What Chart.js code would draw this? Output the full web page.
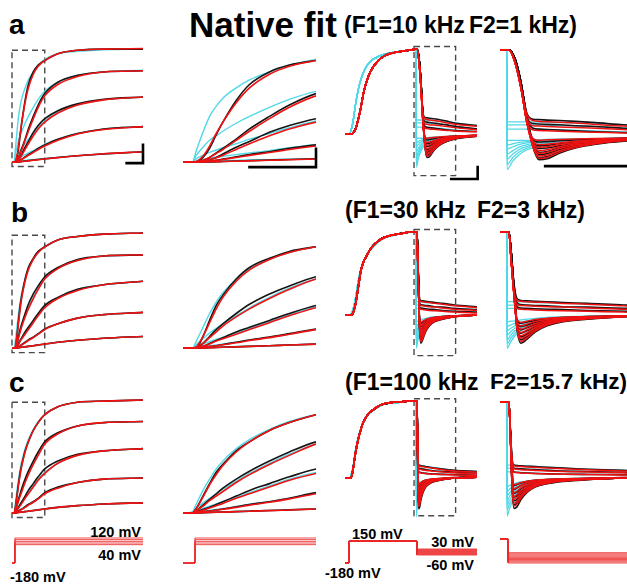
<!DOCTYPE html>
<html>
<head>
<meta charset="utf-8">
<script src="https://cdn.jsdelivr.net/npm/chart.js@4.4.1/dist/chart.umd.min.js"></script>
<style>
  body { margin: 0; background: #fff; }
  #fig { position: relative; width: 627px; height: 586px; overflow: hidden;
         font-family: "Liberation Sans", Arial, sans-serif; font-weight: bold; color: #000; }
  #fig canvas { position: absolute; }
  .t { position: absolute; white-space: nowrap; line-height: 1; }
</style>
</head>
<body>
<div id="fig">
  <div class="t" style="left:9px;top:11px;font-size:28px">a</div>
  <div class="t" style="left:11px;top:199px;font-size:28px">b</div>
  <div class="t" style="left:9px;top:369px;font-size:28px">c</div>
  <div class="t" style="left:189px;top:7px;font-size:35px">Native fit</div>
  <div class="t" style="left:344px;top:14px;font-size:23px">(F1=10 kHz</div>
  <div class="t" style="left:469px;top:14px;font-size:23px">F2=1 kHz)</div>
  <div class="t" style="left:345px;top:199px;font-size:23px">(F1=30 kHz</div>
  <div class="t" style="left:477px;top:199px;font-size:23px">F2=3 kHz)</div>
  <div class="t" style="left:345px;top:371px;font-size:23px">(F1=100 kHz</div>
  <div class="t" style="left:490px;top:371px;font-size:22.5px">F2=15.7 kHz)</div>
  <div class="t" style="right:486px;top:525px;font-size:14.5px">120 mV</div>
  <div class="t" style="right:486px;top:548px;font-size:14.5px">40 mV</div>
  <div class="t" style="left:10px;top:570px;font-size:14.5px">-180 mV</div>
  <div class="t" style="left:352px;top:527px;font-size:14.5px">150 mV</div>
  <div class="t" style="right:153px;top:535px;font-size:14.5px">30 mV</div>
  <div class="t" style="right:153px;top:558px;font-size:14.5px">-60 mV</div>
  <div class="t" style="left:325px;top:566px;font-size:14.5px">-180 mV</div>
</div>
<script>
// ---- activation (columns 1-2): time in ms, current normalised, steps 40..120 mV ----
var actT = [0, 0.7, 1, 1.5, 2, 2.5, 3, 4, 5, 6.5, 8, 10, 14, 20, 28, 40];

var actBlackA = [
  [0, 0, 0, 0, 0, 0.002, 0.004, 0.008, 0.012, 0.017, 0.022, 0.028, 0.04, 0.055, 0.07, 0.09],
  [0, 0, 0, 0, 0.008, 0.015, 0.025, 0.045, 0.065, 0.09, 0.12, 0.15, 0.2, 0.25, 0.29, 0.31],
  [0, 0, 0, 0.005, 0.02, 0.04, 0.07, 0.13, 0.18, 0.26, 0.32, 0.38, 0.45, 0.51, 0.55, 0.57],
  [0, 0, 0, 0.01, 0.04, 0.08, 0.12, 0.2, 0.29, 0.4, 0.5, 0.6, 0.7, 0.76, 0.79, 0.8],
  [0, 0, 0, 0.04, 0.12, 0.24, 0.35, 0.54, 0.68, 0.79, 0.85, 0.89, 0.95, 0.98, 0.99, 0.99]
];
var actRedA = [
  [0, 0, 0, 0.001, 0.002, 0.003, 0.004, 0.007, 0.01, 0.015, 0.02, 0.026, 0.038, 0.055, 0.072, 0.09],
  [0, 0, 0, 0.003, 0.008, 0.014, 0.022, 0.04, 0.058, 0.083, 0.11, 0.14, 0.19, 0.245, 0.285, 0.31],
  [0, 0, 0, 0.006, 0.02, 0.038, 0.06, 0.11, 0.16, 0.23, 0.29, 0.35, 0.43, 0.5, 0.545, 0.57],
  [0, 0, 0.002, 0.015, 0.04, 0.075, 0.11, 0.19, 0.27, 0.38, 0.48, 0.58, 0.68, 0.75, 0.79, 0.8],
  [0, 0, 0.005, 0.05, 0.14, 0.25, 0.35, 0.52, 0.65, 0.77, 0.84, 0.89, 0.95, 0.98, 0.99, 0.995]
];
var actCyanA = [
  [0, 0, 0.003, 0.005, 0.007, 0.009, 0.011, 0.014, 0.017, 0.021, 0.025, 0.03, 0.041, 0.056, 0.072, 0.09],
  [0, 0, 0.01, 0.022, 0.033, 0.042, 0.05, 0.065, 0.08, 0.1, 0.125, 0.155, 0.2, 0.25, 0.29, 0.31],
  [0, 0, 0.03, 0.06, 0.085, 0.105, 0.125, 0.16, 0.2, 0.25, 0.3, 0.36, 0.44, 0.5, 0.545, 0.57],
  [0, 0, 0.06, 0.13, 0.19, 0.23, 0.27, 0.34, 0.4, 0.48, 0.55, 0.62, 0.7, 0.76, 0.79, 0.805],
  [0, 0, 0.1, 0.26, 0.4, 0.49, 0.56, 0.65, 0.72, 0.79, 0.85, 0.9, 0.95, 0.97, 0.985, 0.99]
];

var actBlackB = [
  [0, 0, 0, 0, 0.002, 0.004, 0.006, 0.01, 0.014, 0.02, 0.026, 0.034, 0.05, 0.068, 0.085, 0.1],
  [0, 0, 0, 0.005, 0.012, 0.02, 0.03, 0.05, 0.07, 0.095, 0.125, 0.165, 0.21, 0.26, 0.29, 0.31],
  [0, 0, 0, 0.015, 0.04, 0.065, 0.09, 0.14, 0.18, 0.24, 0.3, 0.37, 0.44, 0.51, 0.55, 0.58],
  [0, 0, 0, 0.04, 0.1, 0.16, 0.21, 0.3, 0.38, 0.47, 0.54, 0.62, 0.7, 0.77, 0.8, 0.81],
  [0, 0, 0, 0.1, 0.24, 0.37, 0.46, 0.6, 0.7, 0.78, 0.84, 0.88, 0.94, 0.97, 0.99, 1.0]
];
var actRedB = [
  [0, 0, 0, 0.001, 0.002, 0.004, 0.006, 0.01, 0.014, 0.02, 0.026, 0.034, 0.05, 0.068, 0.085, 0.1],
  [0, 0, 0.002, 0.006, 0.012, 0.02, 0.028, 0.045, 0.065, 0.09, 0.12, 0.16, 0.21, 0.26, 0.29, 0.31],
  [0, 0, 0.003, 0.015, 0.035, 0.06, 0.08, 0.12, 0.16, 0.22, 0.28, 0.35, 0.43, 0.5, 0.55, 0.58],
  [0, 0, 0.005, 0.04, 0.09, 0.14, 0.19, 0.27, 0.34, 0.43, 0.51, 0.6, 0.69, 0.76, 0.8, 0.81],
  [0, 0, 0.01, 0.1, 0.22, 0.34, 0.44, 0.58, 0.68, 0.77, 0.83, 0.88, 0.94, 0.97, 0.99, 1.0]
];
var actCyanB = [
  [0, 0, 0.002, 0.004, 0.006, 0.008, 0.01, 0.013, 0.016, 0.021, 0.027, 0.035, 0.05, 0.068, 0.085, 0.1],
  [0, 0, 0.006, 0.013, 0.02, 0.027, 0.034, 0.05, 0.068, 0.092, 0.12, 0.16, 0.21, 0.26, 0.29, 0.31],
  [0, 0, 0.015, 0.035, 0.055, 0.075, 0.095, 0.13, 0.17, 0.23, 0.29, 0.36, 0.44, 0.51, 0.55, 0.58],
  [0, 0, 0.03, 0.08, 0.13, 0.17, 0.21, 0.28, 0.35, 0.44, 0.52, 0.6, 0.69, 0.76, 0.8, 0.81],
  [0, 0, 0.06, 0.18, 0.3, 0.4, 0.48, 0.6, 0.69, 0.77, 0.83, 0.88, 0.94, 0.97, 0.99, 1.0]
];

var actBlackC = [
  [0, 0, 0, 0.002, 0.004, 0.006, 0.008, 0.012, 0.016, 0.022, 0.028, 0.036, 0.05, 0.065, 0.08, 0.09],
  [0, 0, 0.003, 0.01, 0.018, 0.026, 0.035, 0.055, 0.075, 0.1, 0.13, 0.18, 0.23, 0.27, 0.3, 0.31],
  [0, 0, 0.01, 0.03, 0.05, 0.075, 0.1, 0.15, 0.2, 0.26, 0.32, 0.39, 0.46, 0.52, 0.55, 0.57],
  [0, 0, 0.02, 0.07, 0.12, 0.17, 0.22, 0.3, 0.37, 0.46, 0.54, 0.63, 0.71, 0.77, 0.8, 0.81],
  [0, 0, 0.04, 0.15, 0.26, 0.36, 0.43, 0.55, 0.63, 0.73, 0.8, 0.87, 0.94, 0.98, 0.99, 1.0]
];
var actRedC = [
  [0, 0, 0, 0.002, 0.004, 0.006, 0.008, 0.012, 0.016, 0.021, 0.027, 0.035, 0.05, 0.065, 0.08, 0.09],
  [0, 0, 0.003, 0.01, 0.017, 0.025, 0.033, 0.05, 0.07, 0.095, 0.125, 0.17, 0.22, 0.27, 0.3, 0.31],
  [0, 0, 0.01, 0.025, 0.045, 0.065, 0.085, 0.13, 0.17, 0.23, 0.29, 0.35, 0.44, 0.51, 0.55, 0.57],
  [0, 0, 0.02, 0.06, 0.11, 0.15, 0.19, 0.27, 0.34, 0.43, 0.51, 0.61, 0.7, 0.77, 0.8, 0.81],
  [0, 0, 0.04, 0.14, 0.25, 0.34, 0.42, 0.54, 0.63, 0.73, 0.8, 0.87, 0.94, 0.98, 0.99, 1.0]
];
var actCyanC = [
  [0, 0.001, 0.003, 0.005, 0.007, 0.009, 0.011, 0.014, 0.018, 0.023, 0.029, 0.036, 0.05, 0.065, 0.08, 0.09],
  [0, 0.003, 0.008, 0.016, 0.024, 0.031, 0.038, 0.057, 0.077, 0.1, 0.13, 0.175, 0.225, 0.27, 0.3, 0.31],
  [0, 0.003, 0.02, 0.04, 0.06, 0.08, 0.1, 0.14, 0.18, 0.24, 0.3, 0.36, 0.44, 0.51, 0.55, 0.57],
  [0, 0.005, 0.04, 0.09, 0.13, 0.17, 0.21, 0.28, 0.35, 0.44, 0.52, 0.61, 0.7, 0.77, 0.8, 0.81],
  [0, 0.01, 0.08, 0.2, 0.3, 0.39, 0.46, 0.57, 0.65, 0.74, 0.81, 0.87, 0.94, 0.98, 0.99, 1.0]
];

// ---- deactivation (columns 3-4): prepulse 150 mV then tails 30..-60 mV ----
var riseT = [0, 4, 5, 6, 8, 10, 12, 14, 16, 18, 21, 25, 29, 35, 42, 50, 54.5];
var riseA = [0, 0, 0, 0.01, 0.06, 0.17, 0.31, 0.48, 0.6, 0.69, 0.78, 0.86, 0.91, 0.95, 0.97, 0.99, 1];
var riseB = [0, 0, 0, 0.02, 0.13, 0.33, 0.53, 0.64, 0.7, 0.76, 0.83, 0.89, 0.93, 0.96, 0.98, 1, 1];
var riseC = [0, 0, 0.02, 0.1, 0.33, 0.5, 0.63, 0.73, 0.79, 0.84, 0.88, 0.93, 0.96, 0.98, 0.99, 1, 1];

var cyanRiseT = [0, 3.5, 4.5, 6, 8, 10, 12, 15, 19, 25, 30, 40, 50, 54];
var cyanRiseA = [0, 0, 0.04, 0.14, 0.35, 0.52, 0.64, 0.76, 0.85, 0.91, 0.94, 0.97, 0.99, 1];
var cyanRiseB = [0, 0, 0.01, 0.06, 0.2, 0.4, 0.55, 0.68, 0.78, 0.88, 0.93, 0.97, 1, 1];
var cyanRiseC = [0, 0, 0.03, 0.13, 0.36, 0.52, 0.64, 0.76, 0.85, 0.92, 0.96, 0.98, 1, 1];

var tailTA = [56, 57.5, 59, 60.5, 62, 64, 67, 71, 76, 83, 100];
var tailBlackA = [
  [0.9, 0.62, 0.26, 0.195, 0.19, 0.185, 0.18, 0.17, 0.155, 0.13, 0.1],
  [0.9, 0.62, 0.22, 0.145, 0.14, 0.135, 0.13, 0.12, 0.11, 0.09, 0.06],
  [0.9, 0.62, 0.2, 0.09, 0.08, 0.075, 0.07, 0.06, 0.05, 0.04, 0.03],
  [0.9, 0.62, 0.2, -0.04, -0.07, -0.065, -0.055, -0.045, -0.035, -0.025, -0.015],
  [0.9, 0.62, 0.2, -0.07, -0.115, -0.11, -0.09, -0.07, -0.05, -0.035, -0.015],
  [0.9, 0.62, 0.2, -0.09, -0.145, -0.14, -0.115, -0.085, -0.06, -0.04, -0.02],
  [0.9, 0.62, 0.2, -0.1, -0.19, -0.18, -0.14, -0.1, -0.07, -0.045, -0.02],
  [0.9, 0.62, 0.2, -0.11, -0.215, -0.205, -0.16, -0.115, -0.08, -0.05, -0.02],
  [0.9, 0.62, 0.2, -0.12, -0.25, -0.24, -0.185, -0.13, -0.09, -0.055, -0.025],
  [0.9, 0.62, 0.2, -0.13, -0.275, -0.265, -0.2, -0.14, -0.095, -0.06, -0.025]
];
var tailRedA = [
  [0.86, 0.56, 0.25, 0.18, 0.17, 0.165, 0.16, 0.15, 0.135, 0.115, 0.09],
  [0.86, 0.56, 0.2, 0.12, 0.115, 0.11, 0.105, 0.1, 0.09, 0.075, 0.05],
  [0.86, 0.56, 0.17, 0.07, 0.065, 0.06, 0.055, 0.05, 0.045, 0.035, 0.025],
  [0.86, 0.56, 0.15, -0.03, -0.05, -0.045, -0.04, -0.035, -0.03, -0.025, -0.015],
  [0.86, 0.56, 0.15, -0.06, -0.1, -0.095, -0.08, -0.06, -0.045, -0.03, -0.015],
  [0.86, 0.56, 0.15, -0.08, -0.13, -0.125, -0.1, -0.075, -0.055, -0.035, -0.015],
  [0.86, 0.56, 0.15, -0.1, -0.17, -0.16, -0.125, -0.09, -0.065, -0.04, -0.02],
  [0.86, 0.56, 0.15, -0.11, -0.2, -0.19, -0.145, -0.105, -0.075, -0.045, -0.02],
  [0.86, 0.56, 0.15, -0.12, -0.23, -0.22, -0.17, -0.12, -0.085, -0.05, -0.02],
  [0.86, 0.56, 0.15, -0.13, -0.26, -0.25, -0.19, -0.135, -0.09, -0.055, -0.025]
];
var cyanTailTA = [54.05, 55.5, 57, 59, 61, 64, 68, 76, 83, 100];
var cyanTailA = [
  [0.165, 0.165, 0.165, 0.164, 0.162, 0.16, 0.155, 0.145, 0.13, 0.1],
  [0.13, 0.13, 0.13, 0.129, 0.127, 0.124, 0.12, 0.11, 0.09, 0.06],
  [0.08, 0.08, 0.08, 0.079, 0.077, 0.074, 0.07, 0.06, 0.045, 0.03],
  [-0.05, -0.05, -0.05, -0.05, -0.045, -0.04, -0.035, -0.03, -0.025, -0.015],
  [-0.105, -0.09, -0.075, -0.065, -0.06, -0.055, -0.045, -0.035, -0.03, -0.015],
  [-0.15, -0.125, -0.1, -0.08, -0.07, -0.065, -0.055, -0.04, -0.03, -0.02],
  [-0.21, -0.17, -0.13, -0.1, -0.085, -0.075, -0.06, -0.045, -0.035, -0.02],
  [-0.27, -0.21, -0.16, -0.12, -0.1, -0.085, -0.07, -0.05, -0.035, -0.02],
  [-0.33, -0.25, -0.19, -0.14, -0.115, -0.095, -0.075, -0.055, -0.04, -0.02],
  [-0.39, -0.29, -0.22, -0.16, -0.13, -0.105, -0.085, -0.06, -0.04, -0.025]
];

var tailTB = [55, 55.7, 56.5, 57.5, 59, 61, 64, 68, 74, 83, 100];
var tailBlackB = [
  [0.8, 0.4, 0.2, 0.175, 0.17, 0.165, 0.16, 0.15, 0.14, 0.12, 0.1],
  [0.8, 0.4, 0.15, 0.125, 0.12, 0.115, 0.11, 0.1, 0.095, 0.08, 0.065],
  [0.8, 0.4, 0.1, 0.085, 0.08, 0.075, 0.07, 0.065, 0.055, 0.045, 0.035],
  [0.8, 0.35, -0.05, -0.1, -0.085, -0.065, -0.045, -0.03, -0.02, -0.01, 0],
  [0.8, 0.35, -0.08, -0.14, -0.12, -0.09, -0.06, -0.04, -0.025, -0.012, 0],
  [0.8, 0.35, -0.1, -0.18, -0.155, -0.115, -0.075, -0.05, -0.03, -0.015, 0],
  [0.8, 0.35, -0.12, -0.22, -0.19, -0.14, -0.09, -0.06, -0.035, -0.015, 0],
  [0.8, 0.35, -0.14, -0.265, -0.23, -0.165, -0.105, -0.07, -0.04, -0.018, 0],
  [0.8, 0.35, -0.15, -0.3, -0.26, -0.185, -0.12, -0.075, -0.045, -0.02, 0],
  [0.8, 0.35, -0.16, -0.34, -0.29, -0.205, -0.13, -0.08, -0.05, -0.02, 0]
];
var tailRedB = [
  [0.7, 0.3, 0.18, 0.165, 0.16, 0.155, 0.15, 0.14, 0.13, 0.11, 0.09],
  [0.7, 0.3, 0.13, 0.115, 0.11, 0.105, 0.1, 0.095, 0.085, 0.07, 0.055],
  [0.7, 0.3, 0.08, 0.07, 0.065, 0.06, 0.055, 0.05, 0.045, 0.035, 0.025],
  [0.7, 0.28, -0.06, -0.09, -0.075, -0.055, -0.04, -0.028, -0.018, -0.01, 0],
  [0.7, 0.28, -0.08, -0.13, -0.11, -0.08, -0.055, -0.037, -0.023, -0.012, 0],
  [0.7, 0.28, -0.1, -0.17, -0.145, -0.105, -0.07, -0.046, -0.028, -0.014, 0],
  [0.7, 0.28, -0.12, -0.21, -0.18, -0.13, -0.085, -0.055, -0.033, -0.015, 0],
  [0.7, 0.28, -0.13, -0.25, -0.215, -0.155, -0.1, -0.064, -0.038, -0.017, 0],
  [0.7, 0.28, -0.14, -0.28, -0.245, -0.175, -0.112, -0.07, -0.042, -0.019, 0],
  [0.7, 0.28, -0.15, -0.32, -0.275, -0.195, -0.122, -0.076, -0.046, -0.02, 0]
];
var cyanTailTB = [54.05, 55, 56, 57.5, 59, 61, 64, 68, 74, 83, 100];
var cyanTailB = [
  [0.16, 0.16, 0.16, 0.158, 0.155, 0.15, 0.145, 0.14, 0.13, 0.115, 0.1],
  [0.12, 0.12, 0.12, 0.118, 0.115, 0.11, 0.105, 0.1, 0.09, 0.075, 0.065],
  [0.08, 0.08, 0.08, 0.078, 0.075, 0.07, 0.065, 0.06, 0.05, 0.045, 0.035],
  [-0.08, -0.075, -0.07, -0.06, -0.05, -0.04, -0.03, -0.02, -0.015, -0.008, 0],
  [-0.14, -0.12, -0.1, -0.085, -0.07, -0.055, -0.04, -0.027, -0.018, -0.01, 0],
  [-0.19, -0.16, -0.13, -0.105, -0.085, -0.065, -0.048, -0.032, -0.02, -0.01, 0],
  [-0.24, -0.2, -0.16, -0.125, -0.1, -0.076, -0.055, -0.037, -0.023, -0.012, 0],
  [-0.3, -0.24, -0.19, -0.145, -0.115, -0.087, -0.062, -0.042, -0.026, -0.013, 0],
  [-0.35, -0.28, -0.22, -0.165, -0.13, -0.097, -0.07, -0.046, -0.028, -0.014, 0],
  [-0.4, -0.32, -0.25, -0.185, -0.145, -0.107, -0.077, -0.05, -0.03, -0.015, 0]
];

var tailTC = [54.9, 55.3, 55.8, 56.5, 57.5, 59, 61, 64, 68, 74, 83, 100];
var tailBlackC = [
  [0.6, 0.25, 0.17, 0.165, 0.16, 0.155, 0.15, 0.14, 0.13, 0.115, 0.1, 0.085],
  [0.6, 0.22, 0.13, 0.125, 0.12, 0.115, 0.11, 0.1, 0.09, 0.085, 0.075, 0.06],
  [0.6, 0.2, 0.08, 0.075, 0.07, 0.065, 0.06, 0.055, 0.05, 0.047, 0.045, 0.035],
  [0.55, 0.1, -0.1, -0.085, -0.065, -0.045, -0.03, -0.02, -0.01, -0.005, 0.005, 0.01],
  [0.55, 0.05, -0.15, -0.13, -0.1, -0.07, -0.045, -0.03, -0.018, -0.008, 0.003, 0.01],
  [0.55, 0.0, -0.2, -0.185, -0.14, -0.1, -0.065, -0.04, -0.025, -0.012, 0, 0.01],
  [0.55, -0.05, -0.25, -0.235, -0.18, -0.125, -0.08, -0.05, -0.03, -0.015, 0, 0.01],
  [0.55, -0.08, -0.3, -0.285, -0.215, -0.15, -0.095, -0.06, -0.035, -0.017, 0, 0.01],
  [0.55, -0.1, -0.35, -0.33, -0.25, -0.17, -0.11, -0.068, -0.04, -0.02, 0, 0.01],
  [0.55, -0.12, -0.4, -0.38, -0.285, -0.19, -0.12, -0.075, -0.045, -0.022, 0, 0.01]
];
var tailRedC = [
  [0.55, 0.22, 0.16, 0.155, 0.15, 0.145, 0.14, 0.132, 0.122, 0.108, 0.092, 0.078],
  [0.55, 0.2, 0.12, 0.115, 0.11, 0.105, 0.1, 0.093, 0.086, 0.078, 0.068, 0.055],
  [0.55, 0.18, 0.075, 0.07, 0.066, 0.062, 0.058, 0.053, 0.049, 0.045, 0.04, 0.032],
  [0.5, 0.08, -0.09, -0.08, -0.06, -0.042, -0.028, -0.018, -0.01, -0.004, 0.005, 0.01],
  [0.5, 0.03, -0.14, -0.125, -0.095, -0.066, -0.043, -0.028, -0.017, -0.007, 0.003, 0.01],
  [0.5, -0.02, -0.19, -0.175, -0.13, -0.093, -0.06, -0.038, -0.023, -0.011, 0, 0.01],
  [0.5, -0.06, -0.24, -0.22, -0.165, -0.117, -0.075, -0.047, -0.028, -0.014, 0, 0.01],
  [0.5, -0.09, -0.28, -0.26, -0.195, -0.138, -0.088, -0.055, -0.033, -0.016, 0, 0.01],
  [0.5, -0.11, -0.33, -0.305, -0.23, -0.16, -0.1, -0.063, -0.037, -0.018, 0, 0.01],
  [0.5, -0.13, -0.37, -0.345, -0.26, -0.18, -0.112, -0.07, -0.041, -0.02, 0, 0.01]
];
var cyanTailTC = [54.05, 54.6, 55.3, 56, 57, 59, 61, 64, 68, 74, 83, 100];
var cyanTailC = [
  [0.17, 0.17, 0.168, 0.166, 0.163, 0.158, 0.152, 0.143, 0.132, 0.117, 0.1, 0.085],
  [0.13, 0.13, 0.128, 0.126, 0.123, 0.118, 0.112, 0.103, 0.093, 0.085, 0.075, 0.06],
  [0.08, 0.08, 0.078, 0.076, 0.073, 0.068, 0.063, 0.057, 0.052, 0.048, 0.045, 0.035],
  [-0.12, -0.1, -0.085, -0.07, -0.055, -0.04, -0.028, -0.018, -0.01, -0.004, 0.005, 0.01],
  [-0.18, -0.15, -0.12, -0.1, -0.08, -0.058, -0.04, -0.026, -0.015, -0.006, 0.003, 0.01],
  [-0.24, -0.2, -0.16, -0.13, -0.1, -0.075, -0.052, -0.034, -0.02, -0.009, 0, 0.01],
  [-0.3, -0.25, -0.2, -0.16, -0.125, -0.09, -0.063, -0.041, -0.025, -0.012, 0, 0.01],
  [-0.36, -0.3, -0.24, -0.19, -0.145, -0.105, -0.074, -0.048, -0.03, -0.014, 0, 0.01],
  [-0.42, -0.35, -0.28, -0.22, -0.165, -0.12, -0.083, -0.054, -0.033, -0.016, 0, 0.01],
  [-0.5, -0.41, -0.32, -0.25, -0.185, -0.135, -0.092, -0.06, -0.036, -0.018, 0, 0.01]
];

// ---- voltage protocols ----
var holdV = -180;
var actStepT = 0.9;
var actStepV = [40, 60, 80, 100, 120];
var prepulseT = [3, 54.3];
var prepulseV = 150;
var tailV = [30, 20, 10, 0, -10, -20, -30, -40, -50, -60];

var BLACK = '#151515', RED = '#f01212', CYAN = '#52d8e6', PROTO = 'rgba(235,40,40,0.85)';
var fig = document.getElementById('fig');

function pts(t, v) {
  return t.map(function (x, i) { return { x: x, y: v[i] }; });
}

function trace(data, color, w) {
  return {
    data: data, borderColor: color, borderWidth: w || 1.6, pointRadius: 0, fill: false,
    cubicInterpolationMode: 'monotone',
    clip: { left: 0, right: 0, top: false, bottom: false }
  };
}

function stepLine(data) {
  return {
    data: data, borderColor: PROTO, borderWidth: 1, pointRadius: 0, fill: false, tension: 0,
    clip: { left: 0, right: 0, top: false, bottom: false }
  };
}

// dashed zoom window and scale bars, drawn through the panel's own scales
var panelMarks = {
  id: 'panelMarks',
  beforeDatasetsDraw: function (chart, args, opts) {
    if (!opts.box) return;
    var xs = chart.scales.x, ys = chart.scales.y, ctx = chart.ctx;
    var x0 = xs.getPixelForValue(opts.box.x[0]), x1 = xs.getPixelForValue(opts.box.x[1]);
    var y0 = ys.getPixelForValue(opts.box.y[1]), y1 = ys.getPixelForValue(opts.box.y[0]);
    ctx.save();
    ctx.setLineDash([6, 4]);
    ctx.strokeStyle = '#4a4a4a';
    ctx.lineWidth = 1.4;
    ctx.strokeRect(x0, y0, x1 - x0, y1 - y0);
    ctx.restore();
  },
  afterDatasetsDraw: function (chart, args, opts) {
    if (!opts.bar) return;
    var xs = chart.scales.x, ys = chart.scales.y, ctx = chart.ctx, b = opts.bar;
    var cx = xs.getPixelForValue(b.corner[0]), cy = ys.getPixelForValue(b.corner[1]);
    ctx.save();
    ctx.strokeStyle = '#000';
    ctx.lineWidth = 2.6;
    ctx.lineCap = 'square';
    ctx.beginPath();
    ctx.moveTo(xs.getPixelForValue(b.corner[0] - b.len[0]), cy);
    ctx.lineTo(cx, cy);
    if (b.len[1]) ctx.lineTo(cx, ys.getPixelForValue(b.corner[1] + b.len[1]));
    ctx.stroke();
    ctx.restore();
  }
};

// area = [left, right, top, bottom] of the data window in page pixels
function panel(area, xr, yr, band, datasets, marks) {
  var cl = Math.max(0, area[0] - 14), cr = Math.min(627, area[1] + 14);
  var c = document.createElement('canvas');
  c.width = cr - cl;
  c.height = band[1] - band[0];
  c.style.left = cl + 'px';
  c.style.top = band[0] + 'px';
  fig.appendChild(c);
  new Chart(c, {
    type: 'line',
    data: { datasets: datasets },
    options: {
      responsive: false, animation: false, events: [],
      layout: { padding: { left: area[0] - cl, right: cr - area[1], top: area[2] - band[0], bottom: band[1] - area[3] } },
      scales: {
        x: { type: 'linear', display: false, min: xr[0], max: xr[1] },
        y: { type: 'linear', display: false, min: yr[0], max: yr[1] }
      },
      plugins: { legend: { display: false }, tooltip: { enabled: false }, panelMarks: marks || {} }
    },
    plugins: [panelMarks]
  });
}

// Chart.js paints the first dataset last, so red goes first to sit on top
function actSets(cyan, black, red) {
  var s = [];
  red.forEach(function (v) { s.push(trace(pts(actT, v), RED)); });
  black.forEach(function (v) { s.push(trace(pts(actT, v), BLACK)); });
  cyan.forEach(function (v) { s.push(trace(pts(actT, v), CYAN, 1.4)); });
  return s;
}

function deactSets(rise, cRise, tT, black, red, cT, cyan) {
  var s = [];
  red.forEach(function (v) { s.push(trace(pts(riseT, rise).concat(pts(tT, v)), RED, 1.5)); });
  black.forEach(function (v) { s.push(trace(pts(riseT, rise).concat(pts(tT, v)), BLACK)); });
  cyan.forEach(function (v) { s.push(trace(pts(cyanRiseT, cRise).concat(pts(cT, v)), CYAN, 1.3)); });
  return s;
}

var zoomAct = [0, 10], zoomDeact = [52.3, 83.8];
var boxAct = { x: zoomAct, y: [-0.04, 0.98] };
var boxDeact = { x: zoomDeact, y: [-0.49, 1.03] };
var bandA = [36, 190], bandB = [222, 366], bandC = [393, 530], bandP = [522, 586];

var rows = [
  { band: bandA, act: [actCyanA, actBlackA, actRedA], actY: [48, 162], deY: [49, 134], de4Y: [50, 136],
    de: [riseA, cyanRiseA, tailTA, tailBlackA, tailRedA, cyanTailTA, cyanTailA],
    bars: [{ corner: [40, -0.01], len: [5, 0.16] }, { corner: [10, -0.045], len: [5, 0.16] },
           { corner: [100.5, -0.53], len: [20, 0.14] }, { corner: [83.8, -0.35], len: [20.3, 0] }] },
  { band: bandB, act: [actCyanB, actBlackB, actRedB], actY: [233, 348], deY: [232, 315], de4Y: [232, 315],
    de: [riseB, cyanRiseB, tailTB, tailBlackB, tailRedB, cyanTailTB, cyanTailB], bars: [] },
  { band: bandC, act: [actCyanC, actBlackC, actRedC], actY: [400, 513], deY: [401, 478], de4Y: [402, 478],
    de: [riseC, cyanRiseC, tailTC, tailBlackC, tailRedC, cyanTailTC, cyanTailC], bars: [] }
];

rows.forEach(function (r) {
  var d = r.de;
  panel([12, 143, r.actY[0], r.actY[1]], [0, 40], [0, 1], r.band,
        actSets(r.act[0], r.act[1], r.act[2]), { box: boxAct, bar: r.bars[0] });
  panel([183, 316, r.actY[0], r.actY[1]], zoomAct, [0, 1], r.band,
        actSets(r.act[0], r.act[1], r.act[2]), { bar: r.bars[1] });
  panel([345, 477, r.deY[0], r.deY[1]], [0, 100], [0, 1], r.band,
        deactSets(d[0], d[1], d[2], d[3], d[4], d[5], d[6]), { box: boxDeact, bar: r.bars[2] });
  panel([500, 627, r.de4Y[0], r.de4Y[1]], zoomDeact, [0, 1], r.band,
        deactSets(d[0], d[1], d[2], d[3], d[4], d[5], d[6]), { bar: r.bars[3] });
});

// protocols
function actProto() {
  return actStepV.map(function (v) {
    return stepLine([{ x: 0, y: holdV }, { x: actStepT, y: holdV }, { x: actStepT, y: v }, { x: 40, y: v }]);
  });
}
function deactProto() {
  return tailV.map(function (v) {
    return stepLine([{ x: 0, y: holdV }, { x: prepulseT[0], y: holdV }, { x: prepulseT[0], y: prepulseV },
                     { x: prepulseT[1], y: prepulseV }, { x: prepulseT[1], y: v }, { x: 100, y: v }]);
  });
}
panel([12, 143, 538, 563], [0, 40], [-180, 120], bandP, actProto());
panel([183, 316, 538, 563], zoomAct, [-180, 120], bandP, actProto());
panel([345, 477, 541, 563], [0, 100], [-180, 150], bandP, deactProto());
panel([500, 627, 539, 563], zoomDeact, [-60, 150], bandP, deactProto());
</script>
</body>
</html>
